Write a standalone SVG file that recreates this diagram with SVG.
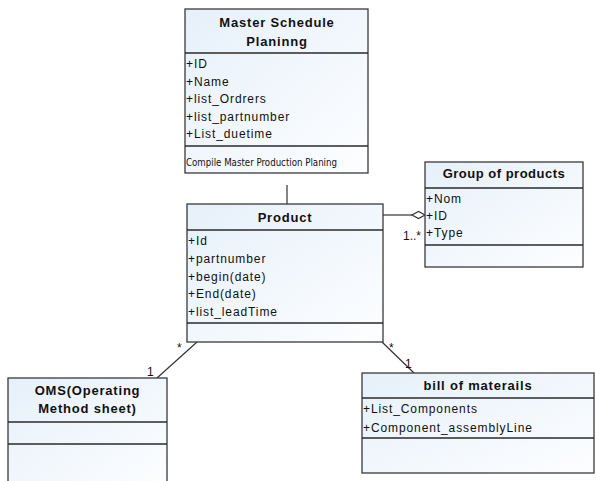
<svg xmlns="http://www.w3.org/2000/svg" width="596" height="481" viewBox="0 0 596 481">
<defs>
<linearGradient id="bg" x1="0" y1="0" x2="1" y2="1">
<stop offset="0" stop-color="#e6f0fa"/>
<stop offset="1" stop-color="#fdfeff"/>
</linearGradient>
<style>
.box{fill:url(#bg);stroke:#3a3a3a;stroke-width:1.3}
.sep{stroke:#2a2a2a;stroke-width:1.3}
.title{font-family:"Liberation Sans",Arial,sans-serif;font-size:13px;font-weight:bold;letter-spacing:0.8px;fill:#111;text-anchor:middle}
.attr{font-family:"Liberation Sans",Arial,sans-serif;font-size:12px;letter-spacing:0.9px;fill:#111}
.lbl{font-family:"Liberation Sans",Arial,sans-serif;font-size:12px;fill:#111}
.op{font-family:"DejaVu Sans Condensed","DejaVu Sans",sans-serif;font-size:11px;fill:#111}
.conn{stroke:#333;stroke-width:1.2;fill:none}
</style>
</defs>
<rect width="596" height="481" fill="#ffffff"/>
<g id="connectors">
<line class="conn" x1="287" y1="185" x2="287" y2="204"/>
<line class="conn" x1="383" y1="215" x2="412" y2="215"/>
<polygon points="412,215 418.5,211.5 425,215 418.5,218.5" fill="#fff" stroke="#333" stroke-width="1.2"/>
<text class="lbl" x="403" y="240">1..*</text>
<line class="conn" x1="197" y1="342" x2="157" y2="378"/>
<text class="lbl" x="177" y="352">*</text>
<text class="lbl" x="147" y="376">1</text>
<line class="conn" x1="382" y1="342" x2="414" y2="373"/>
<text class="lbl" x="389" y="352">*</text>
<text class="lbl" x="405" y="368">1</text>
</g>
<g id="master">
<rect class="box" x="185" y="9" width="183" height="164"/>
<text class="title" x="277" y="27">Master Schedule</text>
<text class="title" x="277" y="46">Planinng</text>
<line class="sep" x1="185" y1="53" x2="368" y2="53"/>
<text class="attr" x="186" y="68">+ID</text>
<text class="attr" x="186" y="85.5">+Name</text>
<text class="attr" x="186" y="103">+list_Ordrers</text>
<text class="attr" x="186" y="120.5">+list_partnumber</text>
<text class="attr" x="186" y="138">+List_duetime</text>
<line class="sep" x1="185" y1="146" x2="368" y2="146"/>
<text class="op" x="186" y="166" textLength="151" lengthAdjust="spacingAndGlyphs">Compile Master Production Planing</text>
</g>
<g id="product">
<rect class="box" x="187" y="204" width="196" height="138"/>
<text class="title" x="285" y="222">Product</text>
<line class="sep" x1="187" y1="230" x2="383" y2="230"/>
<text class="attr" x="188" y="245">+Id</text>
<text class="attr" x="188" y="263">+partnumber</text>
<text class="attr" x="188" y="280.5">+begin(date)</text>
<text class="attr" x="188" y="298">+End(date)</text>
<text class="attr" x="188" y="315.5">+list_leadTime</text>
<line class="sep" x1="187" y1="323" x2="383" y2="323"/>
</g>
<g id="group">
<rect class="box" x="425" y="162" width="158" height="105"/>
<text class="title" x="504" y="178" style="letter-spacing:0.5px">Group of products</text>
<line class="sep" x1="425" y1="188" x2="583" y2="188"/>
<text class="attr" x="426" y="203">+Nom</text>
<text class="attr" x="426" y="220">+ID</text>
<text class="attr" x="426" y="237">+Type</text>
<line class="sep" x1="425" y1="245" x2="583" y2="245"/>
</g>
<g id="oms">
<rect class="box" x="8" y="378" width="159" height="112"/>
<text class="title" x="87.5" y="395">OMS(Operating</text>
<text class="title" x="87.5" y="413">Method sheet)</text>
<line class="sep" x1="8" y1="422" x2="167" y2="422"/>
<line class="sep" x1="8" y1="444" x2="167" y2="444"/>
</g>
<g id="bom">
<rect class="box" x="362" y="373" width="232" height="100"/>
<text class="title" x="478" y="390">bill of materails</text>
<line class="sep" x1="362" y1="398" x2="594" y2="398"/>
<text class="attr" x="363" y="413">+List_Components</text>
<text class="attr" x="363" y="432">+Component_assemblyLine</text>
<line class="sep" x1="362" y1="438" x2="594" y2="438"/>
</g>
</svg>
